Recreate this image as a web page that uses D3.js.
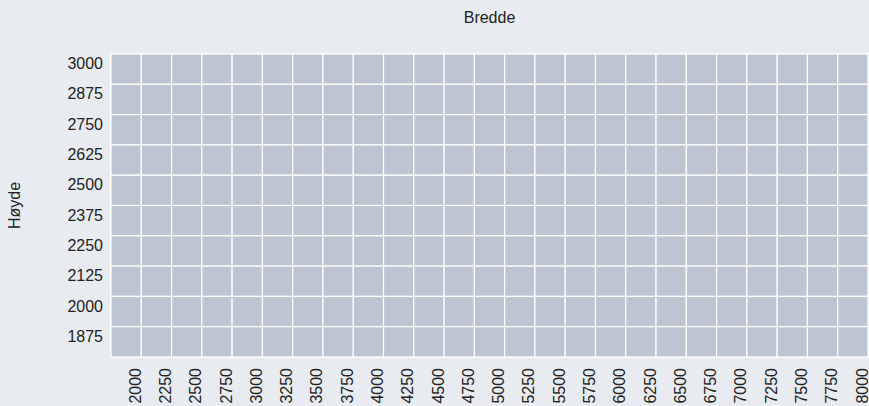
<!DOCTYPE html>
<html>
<head>
<meta charset="utf-8">
<script src="https://cdn.jsdelivr.net/npm/d3@7"></script>
<style>
  body { margin: 0; background: #e8ecf0; }
  svg { display: block; font-family: "Liberation Sans", Arial, sans-serif; }
</style>
</head>
<body>
<div id="chart"></div>
<script>
const widths = [2000, 2250, 2500, 2750, 3000, 3250, 3500, 3750, 4000, 4250, 4500, 4750, 5000,
  5250, 5500, 5750, 6000, 6250, 6500, 6750, 7000, 7250, 7500, 7750, 8000];
const heights = [3000, 2875, 2750, 2625, 2500, 2375, 2250, 2125, 2000, 1875];
const xTitle = 'Bredde';
const yTitle = 'Høyde';

const WIDTH = 869;
const HEIGHT = 406;
const margin = { top: 54, right: 1, bottom: 49, left: 111 };
const FONT_SIZE = 16;

const svg = d3.select('#chart')
  .append('svg')
  .attr('width', WIDTH)
  .attr('height', HEIGHT);

const x = d3.scaleBand()
  .domain(widths)
  .range([margin.left, WIDTH - margin.right]);

const y = d3.scaleBand()
  .domain(heights)
  .range([margin.top, HEIGHT - margin.bottom]);

const cells = heights.flatMap((h) => widths.map((w) => ({ w, h })));

svg.append('rect')
  .attr('x', margin.left - 1)
  .attr('y', margin.top - 1)
  .attr('width', WIDTH - margin.left - margin.right + 2)
  .attr('height', HEIGHT - margin.top - margin.bottom + 2)
  .attr('fill', '#f4f6f8');

svg.append('g')
  .selectAll('rect')
  .data(cells)
  .join('rect')
  .attr('x', (d) => x(d.w))
  .attr('y', (d) => y(d.h))
  .attr('width', x.bandwidth())
  .attr('height', y.bandwidth())
  .attr('fill', '#bcc5d1')
  .attr('stroke', '#ffffff')
  .attr('stroke-width', 1.2);

// y labels
svg.append('g')
  .selectAll('text')
  .data(heights)
  .join('text')
  .attr('x', 103)
  .attr('y', (d) => y(d) + y.bandwidth() / 2)
  .attr('text-anchor', 'end')
  .attr('font-size', FONT_SIZE)
  .attr('fill', '#222')
  .text((d) => d);

// x labels, baseline sits on the right edge of each band
svg.append('g')
  .selectAll('text')
  .data(widths)
  .join('text')
  .attr('transform', (d) => `translate(${x(d) + x.bandwidth() - 0.5}, 368) rotate(-90)`)
  .attr('text-anchor', 'end')
  .attr('font-size', FONT_SIZE)
  .attr('fill', '#222')
  .text((d) => d);

svg.append('text')
  .attr('x', (margin.left + WIDTH - margin.right) / 2)
  .attr('y', 23)
  .attr('text-anchor', 'middle')
  .attr('font-size', FONT_SIZE)
  .attr('fill', '#222')
  .text(xTitle);

svg.append('text')
  .attr('transform', `translate(20, ${(margin.top + HEIGHT - margin.bottom) / 2}) rotate(-90)`)
  .attr('text-anchor', 'middle')
  .attr('font-size', FONT_SIZE)
  .attr('fill', '#222')
  .text(yTitle);
</script>
</body>
</html>
